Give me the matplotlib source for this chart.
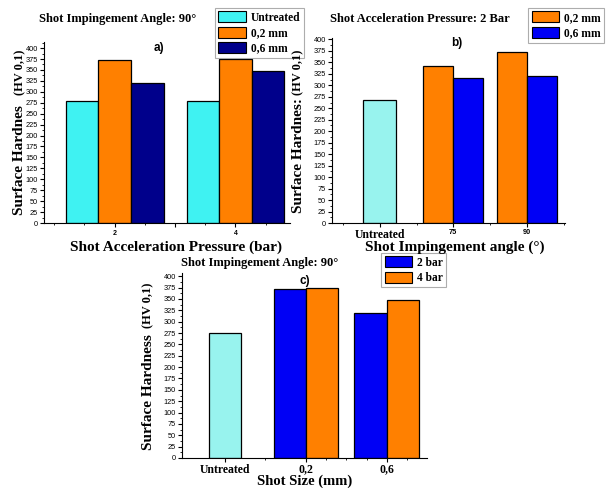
import matplotlib
matplotlib.use("Agg")
import matplotlib.pyplot as plt
from matplotlib.patches import Patch
from matplotlib.ticker import MultipleLocator, FixedLocator

# panel a: 90 deg impingement, by acceleration pressure
a_pressure = [2, 4]
a_untreated = [280, 280]
a_02mm = [372, 375]
a_06mm = [320, 348]

# panel b: 2 bar, by impingement angle
b_labels = ["Untreated", "75", "90"]
b_untreated = 268
b_02mm = [343, 372]
b_06mm = [315, 320]

# panel c: 90 deg, by shot size
c_labels = ["Untreated", "0,2", "0,6"]
c_untreated = 275
c_2bar = [372, 320]
c_4bar = [375, 348]

CYAN = "#3ff2f2"
LCYAN = "#98f3ee"
ORANGE = "#ff8000"
NAVY = "#00008b"
BLUE = "#0000f5"

serif = "Liberation Serif"
sans = "Liberation Sans"

fig = plt.figure(figsize=(6.07, 4.88), dpi=100)

def style_axes(ax, ymax):
    ax.spines["top"].set_visible(False)
    ax.spines["right"].set_visible(False)
    ax.set_ylim(0, ymax)
    ax.yaxis.set_major_locator(MultipleLocator(25))
    ax.yaxis.set_minor_locator(MultipleLocator(12.5))
    ax.tick_params(axis="both", which="major", direction="out", length=3, width=0.8)
    ax.tick_params(axis="both", which="minor", direction="out", length=1.5, width=0.6)
    ax.tick_params(axis="y", pad=1.5)
    for t in ax.get_yticklabels():
        t.set_fontfamily(sans)
        t.set_fontsize(5.3)

edge = dict(edgecolor="black", linewidth=0.9)

# ---- a)
ax1 = fig.add_axes([0.0725, 0.543, 0.405, 0.371])
w = 0.54
ax1.bar([p - w for p in a_pressure], a_untreated, w, color=CYAN, **edge)
ax1.bar(a_pressure, a_02mm, w, color=ORANGE, **edge)
ax1.bar([p + w for p in a_pressure], a_06mm, w, color=NAVY, **edge)
ax1.set_xlim(0.83, 4.9)
ax1.xaxis.set_major_locator(FixedLocator([2, 3, 4]))
ax1.set_xticklabels(["2", "", "4"], fontfamily=sans, fontsize=5, fontweight="bold")
ax1.xaxis.set_minor_locator(MultipleLocator(0.5))
style_axes(ax1, 414)
ax1.tick_params(axis="x", pad=2)

# ---- b)
ax2 = fig.add_axes([0.547, 0.543, 0.384, 0.379])
wb = 0.41
ax2.bar(0, b_untreated, 0.45, color=LCYAN, **edge)
ax2.bar([1 - wb / 2, 2 - wb / 2], b_02mm, wb, color=ORANGE, **edge)
ax2.bar([1 + wb / 2, 2 + wb / 2], b_06mm, wb, color=BLUE, **edge)
ax2.set_xlim(-0.65, 2.52)
ax2.set_xticks([0, 1, 2])
ax2.set_xticklabels(b_labels)
ax2.xaxis.set_minor_locator(FixedLocator([-0.5, 0.5, 1.5, 2.5]))
style_axes(ax2, 403)
ax2.tick_params(axis="x", pad=1.5)
for i, t in enumerate(ax2.get_xticklabels()):
    if i == 0:
        t.set_fontfamily(serif); t.set_fontsize(8.5)
    else:
        t.set_fontfamily(sans); t.set_fontsize(5.3)
    t.set_fontweight("bold")

# ---- c)
ax3 = fig.add_axes([0.300, 0.0615, 0.404, 0.379])
wc = 0.4
ax3.bar(0, c_untreated, wc, color=LCYAN, **edge)
ax3.bar([1 - wc / 2, 2 - wc / 2], c_2bar, wc, color=BLUE, **edge)
ax3.bar([1 + wc / 2, 2 + wc / 2], c_4bar, wc, color=ORANGE, **edge)
ax3.set_xlim(-0.53, 2.5)
ax3.set_xticks([0, 1, 2])
ax3.set_xticklabels(c_labels, fontfamily=serif, fontsize=8.5, fontweight="bold")
ax3.xaxis.set_minor_locator(FixedLocator([0.5, 1.25, 1.5, 1.75, 2.25]))
style_axes(ax3, 407)
ax3.tick_params(axis="x", pad=1)

# titles
fig.text(0.193, 0.961, "Shot Impingement Angle: 90°", ha="center", va="center",
         fontfamily=serif, fontweight="bold", fontsize=9)
fig.text(0.692, 0.961, "Shot Acceleration Pressure: 2 Bar", ha="center", va="center",
         fontfamily=serif, fontweight="bold", fontsize=9)
fig.text(0.428, 0.461, "Shot Impingement Angle: 90°", ha="center", va="center",
         fontfamily=serif, fontweight="bold", fontsize=9)

# panel letters
fig.text(159 / 607, 1 - 48 / 488, "a)", ha="center", va="center", fontfamily=sans, fontweight="bold", fontsize=8.5)
fig.text(457 / 607, 1 - 43 / 488, "b)", ha="center", va="center", fontfamily=sans, fontweight="bold", fontsize=8.5)
fig.text(305 / 607, 1 - 281 / 488, "c)", ha="center", va="center", fontfamily=sans, fontweight="bold", fontsize=8.5)

# y labels (two sizes): main text starts at y_start, "(HV 0,1)" ends at y_end
def ylab(x, y_start, y_end, txt):
    fig.text(x, 1 - y_start / 488, txt, rotation=90, ha="center", va="bottom",
             fontfamily=serif, fontweight="bold", fontsize=11)
    fig.text(x, 1 - y_end / 488, "(HV 0,1)", rotation=90, ha="center", va="top",
             fontfamily=serif, fontweight="bold", fontsize=9)

ylab(20 / 607, 215, 50, "Surface Hardnes")
ylab(298 / 607, 213, 50, "Surface Hardnes:")
ylab(148 / 607, 450, 283, "Surface Hardness")

# x labels
fig.text(176 / 607, 1 - 247 / 488, "Shot Acceleration Pressure (bar)", ha="center", va="center",
         fontfamily=serif, fontweight="bold", fontsize=11)
fig.text(455 / 607, 1 - 247 / 488, "Shot Impingement angle (°)", ha="center", va="center",
         fontfamily=serif, fontweight="bold", fontsize=11)
fig.text(305 / 607, 1 - 481 / 488, "Shot Size (mm)", ha="center", va="center",
         fontfamily=serif, fontweight="bold", fontsize=10.5)

# legends
leg_kw = dict(loc="upper left", frameon=True, fancybox=False, handlelength=2.4,
              handleheight=1.1, handletextpad=0.4, borderpad=0.3, labelspacing=0.25,
              borderaxespad=0, prop=dict(family=serif, weight="bold", size=8.3))

def legend(ax, items, anchor):
    handles = [Patch(facecolor=c, edgecolor="black", linewidth=0.8) for c, _ in items]
    lg = ax.legend(handles, [l for _, l in items], bbox_to_anchor=anchor,
                   bbox_transform=fig.transFigure, **leg_kw)
    lg.get_frame().set_edgecolor("#999999")
    lg.get_frame().set_linewidth(0.8)

legend(ax1, [(CYAN, "Untreated"), (ORANGE, "0,2 mm"), (NAVY, "0,6 mm")], (0.354, 0.984))
legend(ax2, [(ORANGE, "0,2 mm"), (BLUE, "0,6 mm")], (0.870, 0.984))
legend(ax3, [(BLUE, "2 bar"), (ORANGE, "4 bar")], (0.628, 0.482))

fig.savefig("out.png", dpi=100)
